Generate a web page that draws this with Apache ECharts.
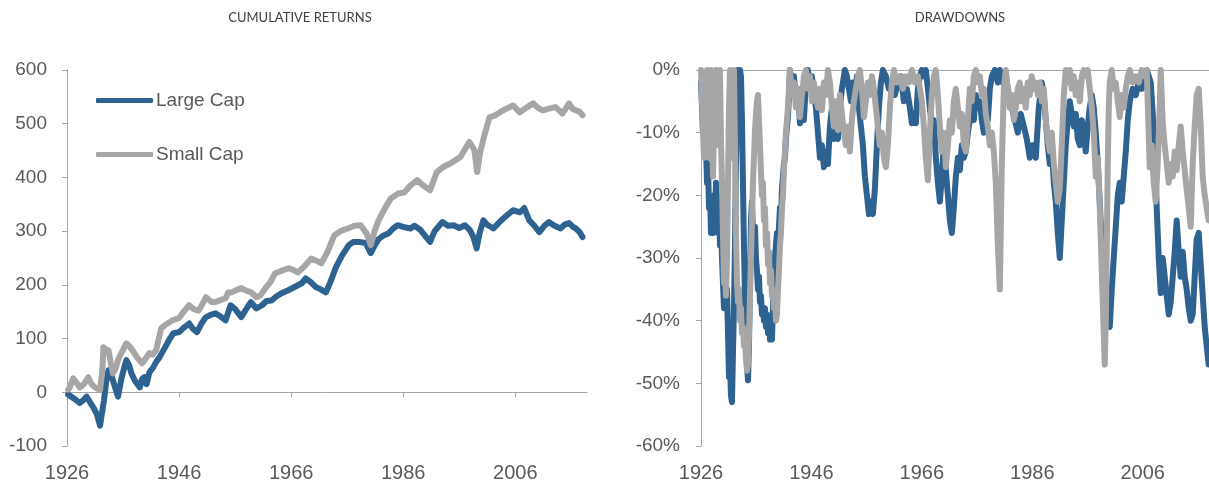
<!DOCTYPE html>
<html><head><meta charset="utf-8">
<script src="https://cdn.jsdelivr.net/npm/echarts@6/dist/echarts.min.js"></script>
<style>html,body{margin:0;padding:0;background:#fff}#c{width:1209px;height:484px}</style>
</head><body><div id="c"></div>
<script>
const startYear = 1926;
const xTickYears = [1926, 1946, 1966, 1986, 2006];
const panelTitles = ['CUMULATIVE RETURNS', 'DRAWDOWNS'];
const seriesNames = ['Large Cap', 'Small Cap'];

// Cumulative returns: [year, value]
const largeCapCumulative = [
[1926.2,-4],[1926.5,-6],[1927.3,-12],[1928.3,-20],[1929.0,-14],[1929.5,-8],[1930.2,-20],[1930.7,-28],[1931.3,-40],[1931.9,-62],
[1932.3,-35],[1932.6,-15],[1933.0,20],[1933.4,41],[1933.8,35],[1934.2,22],[1934.7,5],[1935.1,-8],[1935.7,25],[1936.2,45],
[1936.6,60],[1937.1,50],[1937.5,35],[1938.2,20],[1939.0,9],[1939.4,25],[1939.8,28],[1940.2,15],[1940.7,37],[1941.3,45],
[1942.0,58],[1942.5,65],[1943.2,78],[1944.2,97],[1945.0,110],[1946.0,112],[1946.8,120],[1947.8,128],[1948.5,118],[1949.2,112],
[1950.0,128],[1950.8,140],[1951.6,144],[1952.5,147],[1953.3,142],[1954.3,134],[1955.2,162],[1956.0,155],[1957.1,140],[1958.0,155],
[1958.8,168],[1959.8,156],[1960.8,162],[1961.6,170],[1962.5,171],[1963.3,178],[1964.2,184],[1965.5,190],[1966.6,196],[1967.9,203],
[1968.6,212],[1969.5,205],[1970.4,196],[1971.2,192],[1972.2,186],[1973.0,205],[1974.0,233],[1975.1,255],[1976.3,274],[1977.1,280],
[1978.1,280],[1979.3,278],[1980.2,259],[1981.0,275],[1981.6,285],[1982.5,292],[1983.4,296],[1984.2,305],[1985.0,311],[1986.0,308],
[1987.3,305],[1988.0,310],[1989.1,302],[1990.0,290],[1990.8,280],[1991.6,300],[1993.0,317],[1994.0,310],[1995.0,311],[1996.0,306],
[1997.0,311],[1997.9,302],[1998.5,290],[1999.1,268],[1999.6,295],[2000.3,320],[2001.0,312],[2002.1,305],[2003.0,315],[2003.9,324],
[2004.8,332],[2005.6,339],[2006.8,335],[2007.6,343],[2008.1,330],[2008.5,320],[2009.4,310],[2010.3,298],[2011.2,310],[2012.0,317],
[2013.0,310],[2014.1,305],[2014.8,312],[2015.6,315],[2016.3,308],[2016.8,305],[2017.5,298],[2018.0,289]
];
const smallCapCumulative = [
[1926.2,5],[1926.5,9],[1927.1,26],[1927.7,18],[1928.3,9],[1929.0,15],[1929.8,28],[1930.4,15],[1931.0,9],[1931.9,4],
[1932.3,40],[1932.5,84],[1932.9,80],[1933.4,78],[1933.8,55],[1934.2,35],[1934.7,45],[1935.1,60],[1935.8,75],[1936.6,91],
[1937.2,85],[1937.7,78],[1938.5,65],[1939.4,54],[1940.0,62],[1940.7,73],[1941.3,70],[1941.9,78],[1942.8,119],[1943.5,125],
[1944.2,130],[1945.0,135],[1946.0,138],[1946.8,150],[1947.8,162],[1948.6,155],[1949.5,152],[1950.2,165],[1950.8,177],[1951.8,168],
[1952.5,168],[1953.5,172],[1954.3,175],[1954.8,186],[1955.4,186],[1956.2,190],[1957.1,194],[1957.8,190],[1958.9,186],[1959.8,177],
[1960.5,180],[1961.5,195],[1962.3,205],[1963.1,221],[1964.2,226],[1965.5,231],[1966.4,228],[1967.2,223],[1968.4,235],[1969.6,249],
[1970.5,245],[1971.4,240],[1972.5,262],[1973.7,292],[1974.8,300],[1976.1,305],[1977.3,310],[1978.4,311],[1979.5,295],[1980.2,274],
[1980.9,300],[1981.6,320],[1982.6,340],[1983.8,361],[1985.1,370],[1986.2,372],[1987.3,385],[1988.5,395],[1989.6,385],[1990.8,376],
[1992.0,410],[1993.2,420],[1994.4,426],[1995.3,432],[1996.2,438],[1997.0,452],[1997.8,466],[1998.3,458],[1998.7,451],[1999.2,410],
[1999.7,445],[2000.4,475],[2001.4,512],[2002.3,515],[2003.2,521],[2004.4,528],[2005.6,534],[2006.8,521],[2008.0,530],[2009.2,538],
[2010.0,530],[2010.9,525],[2012.0,528],[2013.2,531],[2014.4,519],[2015.0,528],[2015.6,538],[2016.2,528],[2016.8,525],[2017.5,522],
[2018.0,516]
];

// Drawdowns (%): [year, value]
const largeCapDrawdown = [
[1926.00,-2],[1926.18,-6],[1926.36,-10],[1926.54,-8],[1926.72,-14],[1926.90,-12],[1927.09,-18],[1927.27,-15],[1927.45,-22],[1927.63,-20],
[1927.81,-26],[1927.99,-22],[1928.17,-26],[1928.35,-20],[1928.53,-25],[1928.71,-18],[1928.90,-22],[1929.08,-26],[1929.26,-20],[1929.44,-28],
[1929.62,-24],[1929.80,-30],[1929.98,-34],[1930.16,-38],[1930.34,-36],[1930.52,-38],[1930.71,-35],[1930.89,-42],[1931.07,-49],[1931.25,-46],
[1931.43,-52],[1931.61,-53],[1931.79,-45],[1931.97,-38],[1932.15,-28],[1932.33,-15],[1932.52,-5],[1932.70,0],[1932.88,-2],[1933.06,0],
[1933.24,-1],[1933.42,-8],[1933.60,-18],[1933.78,-28],[1933.96,-36],[1934.14,-42],[1934.33,-47],[1934.51,-49.5],[1934.69,-44],[1934.87,-34],
[1935.05,-24],[1935.23,-21],[1935.41,-26],[1935.59,-28],[1935.77,-25],[1935.95,-30],[1936.14,-32],[1936.32,-35],[1936.50,-33],[1936.68,-37],
[1936.86,-36],[1937.04,-39],[1937.22,-38],[1937.40,-40],[1937.58,-38],[1937.76,-41],[1937.95,-39],[1938.13,-42],[1938.31,-40],[1938.49,-43],
[1938.67,-41],[1938.85,-43],[1939.03,-38],[1939.21,-33],[1939.39,-30],[1939.57,-28],[1939.76,-26],[1939.94,-30],[1940.12,-25],[1940.30,-22],
[1940.48,-24],[1940.66,-19],[1940.84,-17],[1941.02,-15],[1941.20,-14],[1941.38,-11],[1941.57,-9],[1941.75,-7.5],[1941.93,-4],[1942.11,0],
[1942.47,-3],[1942.83,-1],[1943.19,-5],[1943.56,-3],[1943.92,-8.5],[1944.28,-6],[1944.64,-8],[1945.00,-2],[1945.37,0],[1945.73,-3],
[1946.09,-1],[1946.45,-4],[1946.81,-6],[1947.18,-10],[1947.54,-14],[1947.90,-12],[1948.26,-15.5],[1948.62,-13],[1948.99,-15],[1949.35,-9],
[1949.71,-6],[1950.07,-11],[1950.43,-9],[1950.80,-11],[1951.16,-6],[1951.52,-3],[1952.06,0],[1952.42,-1],[1952.79,-3],[1953.15,-5],
[1953.51,-2],[1953.87,-4],[1954.24,-1],[1954.60,-6],[1954.96,-9],[1955.32,-12],[1955.68,-17],[1956.05,-20],[1956.41,-23],[1956.77,-21],
[1957.13,-23],[1957.49,-19],[1957.86,-12],[1958.22,-6],[1958.58,-2],[1958.94,0],[1959.48,-1],[1960.03,-3],[1960.57,-2],[1961.11,-4],
[1961.65,-2],[1962.20,-1],[1962.74,-5],[1963.28,-3],[1963.83,-6],[1964.19,-8.5],[1964.55,-7],[1964.91,-8.5],[1965.28,-3],[1965.64,-1],
[1966.00,0],[1966.36,-1],[1966.72,0],[1967.09,-3],[1967.45,-6],[1967.81,-9],[1968.17,-8],[1968.53,-14],[1968.90,-18],[1969.26,-21],
[1969.62,-17],[1969.98,-12],[1970.34,-16],[1970.71,-20],[1971.07,-24],[1971.43,-26],[1971.79,-22],[1972.15,-17],[1972.52,-14],[1972.88,-16],
[1973.24,-12],[1973.60,-14],[1973.96,-13],[1974.33,-10],[1974.69,-8],[1975.05,-5],[1975.41,-8],[1975.77,-4],[1976.14,-6],[1976.50,-5],
[1976.86,-8],[1977.22,-10],[1977.58,-6],[1977.95,-8],[1978.31,-3],[1978.67,-1],[1979.21,0],[1979.76,-2],[1980.12,0],[1980.66,-2],
[1981.20,-1],[1981.74,-4],[1982.29,-6],[1982.83,-8],[1983.37,-10],[1983.91,-7],[1984.46,-9],[1985.00,-11],[1985.55,-14],[1986.09,-12],
[1986.63,-14],[1987.17,-6],[1987.72,-2],[1988.08,-4],[1988.44,-8],[1988.80,-12],[1989.17,-15],[1989.53,-12],[1989.89,-18],[1990.25,-21],
[1990.61,-26],[1990.98,-30],[1991.34,-24],[1991.70,-18],[1992.06,-12],[1992.42,-8],[1992.79,-5],[1993.15,-7],[1993.51,-9],[1993.87,-7],
[1994.24,-11],[1994.60,-12],[1994.96,-8],[1995.32,-10],[1995.68,-13],[1996.05,-9],[1996.41,-6],[1996.77,-4],[1997.13,-6],[1997.49,-10],
[1997.86,-15],[1998.22,-21],[1998.58,-28],[1998.94,-35],[1999.31,-40],[1999.67,-38],[2000.03,-41],[2000.39,-35],[2000.75,-30],[2001.12,-25],
[2001.48,-20],[2001.84,-18],[2002.20,-21],[2002.56,-17],[2002.93,-13],[2003.29,-8],[2003.65,-5],[2004.19,-3],[2004.74,-4],[2005.28,-2],
[2005.82,-3],[2006.36,-1],[2006.72,0],[2007.09,-1],[2007.45,-2],[2007.81,-2],[2008.17,-12],[2008.53,-22],[2008.90,-30],[2009.26,-35.6],
[2009.62,-30],[2009.98,-33],[2010.34,-36],[2010.71,-39],[2011.07,-37],[2011.43,-33],[2011.79,-29],[2012.15,-24],[2012.52,-29],[2012.88,-33],
[2013.24,-29],[2013.60,-33],[2013.96,-35],[2014.33,-38],[2014.69,-40],[2015.05,-39],[2015.41,-33],[2015.77,-27],[2016.14,-26],[2016.50,-31],
[2016.86,-36],[2017.22,-41],[2017.58,-44],[2017.94,-47]
];
const smallCapDrawdown = [
[1926.00,0],[1926.18,-5],[1926.36,-10],[1926.54,-14],[1926.72,-8],[1926.90,-2],[1927.09,0],[1927.27,-8],[1927.45,-14],[1927.63,-4],
[1927.81,0],[1927.99,-8],[1928.17,-17],[1928.35,-10],[1928.53,-3],[1928.71,0],[1928.90,-6],[1929.08,-12],[1929.26,-4],[1929.44,0],
[1929.62,-11],[1929.80,-18],[1929.98,-26],[1930.16,-34],[1930.34,-30],[1930.52,-36],[1930.71,-30],[1930.89,-18],[1931.07,-6],[1931.25,0],
[1931.43,-4],[1931.61,-14],[1931.79,-6],[1931.97,0],[1932.15,-12],[1932.33,-26],[1932.52,-34],[1932.70,-37],[1932.88,-35],[1933.06,-40],
[1933.24,-38],[1933.42,-42],[1933.60,-41],[1933.78,-44],[1933.96,-43],[1934.14,-46],[1934.33,-48],[1934.51,-47],[1934.69,-42],[1934.87,-36],
[1935.05,-30],[1935.23,-24],[1935.41,-18],[1935.59,-14],[1935.77,-10],[1935.95,-7],[1936.14,-5],[1936.32,-4],[1936.50,-8],[1936.68,-12],
[1936.86,-16],[1937.04,-20],[1937.22,-18],[1937.40,-24],[1937.58,-22],[1937.76,-28],[1937.95,-26],[1938.13,-31],[1938.31,-29],[1938.49,-34],
[1938.67,-32],[1938.85,-36],[1939.03,-35],[1939.21,-38],[1939.39,-36],[1939.57,-40],[1939.76,-39],[1939.94,-35],[1940.12,-32],[1940.30,-28],
[1940.48,-26],[1940.66,-22],[1940.84,-20],[1941.02,-16],[1941.20,-13],[1941.38,-10],[1941.57,-8],[1941.75,-6],[1941.93,-3],[1942.11,0],
[1942.47,-4],[1942.83,-2],[1943.19,-6],[1943.56,-3],[1943.92,-7.5],[1944.28,-4],[1944.64,-1],[1945.00,0],[1945.37,-3],[1945.73,-1],
[1946.09,-5],[1946.45,-2],[1946.81,-4],[1947.18,-6],[1947.54,-3],[1947.90,-6.4],[1948.26,-2],[1948.62,-4],[1948.99,0],[1949.35,-2],
[1949.71,-6],[1950.07,-9],[1950.43,-5],[1950.80,-9.6],[1951.16,-4],[1951.52,-7],[1951.88,-10],[1952.24,-12],[1952.61,-9],[1952.97,-13],
[1953.33,-8],[1953.69,-5],[1954.05,-3],[1954.42,-1],[1954.78,0],[1955.14,-3],[1955.50,-7.5],[1955.86,-5],[1956.23,-2],[1956.59,-4],
[1956.95,-1],[1957.31,-3],[1957.67,-6],[1958.04,-9],[1958.40,-12],[1958.76,-10],[1959.12,-14],[1959.48,-15.5],[1959.85,-12],[1960.21,-6],
[1960.57,-2],[1960.93,0],[1961.47,-2],[1962.02,-1],[1962.56,-3],[1963.10,-1],[1963.65,-2],[1964.19,0],[1964.73,-2],[1965.28,-1],
[1965.64,-3],[1966.00,-5],[1966.36,-9],[1966.72,-14],[1967.09,-17.6],[1967.45,-10],[1967.81,-4],[1968.17,-1],[1968.53,0],[1968.90,-4],
[1969.26,-9],[1969.62,-13],[1969.98,-10],[1970.34,-15.5],[1970.71,-12],[1971.07,-8],[1971.43,-10],[1971.79,-5],[1972.15,-3],[1972.52,-6],
[1972.88,-9],[1973.24,-7],[1973.60,-12],[1973.96,-13],[1974.33,-8],[1974.69,-3],[1975.05,-5],[1975.41,-1],[1975.77,0],[1976.14,-2],
[1976.50,-1],[1976.86,-4],[1977.22,-3],[1977.58,-7],[1977.95,-9],[1978.31,-12],[1978.67,-10],[1979.03,-13],[1979.39,-18],[1979.76,-28],
[1980.12,-35],[1980.48,-15],[1980.84,-3],[1981.20,0],[1981.56,-3],[1981.92,-6],[1982.29,-4],[1982.65,-8],[1983.01,-6],[1983.37,-3],
[1983.73,-2],[1984.10,-5],[1984.46,-3],[1984.82,-6],[1985.18,-2],[1985.55,-4],[1985.91,-1],[1986.27,-3],[1986.63,-2],[1987.00,-4],
[1987.36,-2],[1987.72,-5],[1988.08,-3],[1988.44,-8],[1988.80,-11],[1989.17,-13],[1989.53,-10],[1989.89,-15],[1990.25,-18],[1990.61,-21],
[1990.98,-19],[1991.34,-12],[1991.70,-4],[1992.06,0],[1992.42,-2],[1992.79,0],[1993.15,-3],[1993.51,-1],[1993.87,-4],[1994.24,-2],
[1994.60,-5],[1994.96,-1],[1995.32,0],[1995.68,-1],[1996.05,0],[1996.41,-3],[1996.77,-6],[1997.13,-10],[1997.49,-17],[1997.86,-14],
[1998.22,-22],[1998.58,-32],[1998.94,-42],[1999.12,-47],[1999.31,-40],[1999.49,-28],[1999.67,-15],[1999.85,-6],[2000.03,-2],[2000.39,0],
[2000.75,-3],[2001.12,-2],[2001.48,-5],[2001.84,-7.5],[2002.20,-4],[2002.56,-6],[2002.93,-3],[2003.29,-1],[2003.65,0],[2004.19,-2],
[2004.74,-1],[2005.28,-2],[2005.82,0],[2006.36,-1],[2006.72,0],[2006.90,-5],[2007.26,-15.5],[2007.62,-12],[2007.99,-18],[2008.35,-21],
[2008.71,-15],[2009.07,-6],[2009.26,0],[2009.62,-8.5],[2009.98,-12],[2010.34,-15],[2010.71,-18],[2011.07,-15],[2011.43,-17],[2011.79,-13],
[2012.15,-16],[2012.52,-12],[2012.88,-9],[2013.24,-13],[2013.60,-16],[2013.96,-19],[2014.33,-22],[2014.69,-25],[2015.05,-15],[2015.41,-9],
[2015.77,-4],[2016.14,-3],[2016.50,-9],[2016.86,-17],[2017.22,-20],[2017.58,-22],[2017.94,-24]
];

const BLUE = '#2e6290';
const GRAY = '#a6a6a6';
const AXIS = '#a6a6a6';
const LABEL = '#595959';
const FONT = '"Liberation Sans", Arial, sans-serif';

const toOffset = arr => arr.map(p => [p[0] - startYear, p[1]]);
const tickOffsets = xTickYears.map(y => y - startYear);
const yearFmt = v => String(Math.round(v + startYear));

function lineAxisX(gridIndex, max, showTicks) {
  return {
    type: 'value', gridIndex, min: 0, max, interval: 20,
    axisLine: { show: true, onZero: true, lineStyle: { color: AXIS, width: 1 } },
    axisTick: { show: showTicks, length: 5, lineStyle: { color: AXIS }, customValues: tickOffsets },
    axisLabel: { show: false, customValues: tickOffsets },
    splitLine: { show: false }
  };
}
function labelAxisX(gridIndex, max) {
  return {
    type: 'value', gridIndex, min: 0, max, interval: 20, position: 'bottom',
    axisLine: { show: false, onZero: false },
    axisTick: { show: false, customValues: tickOffsets },
    axisLabel: { show: true, customValues: tickOffsets, formatter: yearFmt, color: LABEL, fontSize: 20, fontFamily: FONT, margin: 17 },
    splitLine: { show: false }
  };
}
const lineStyleFor = c => ({ color: c, width: 6, cap: 'round', join: 'round' });

const option = {
  animation: false,
  backgroundColor: '#fff',
  graphic: [
    { type: 'text', x: 300, y: 18, style: { text: panelTitles[0], textAlign: 'center', textVerticalAlign: 'middle', fill: '#404040', font: '13px Lato, "Open Sans", sans-serif' } },
    { type: 'text', x: 960, y: 18, style: { text: panelTitles[1], textAlign: 'center', textVerticalAlign: 'middle', fill: '#404040', font: '13px Lato, "Open Sans", sans-serif' } }
  ],
  legend: {
    data: seriesNames, orient: 'vertical', left: 96, top: 91, padding: 0,
    itemWidth: 57, itemHeight: 5, itemGap: 35, icon: 'roundRect',
    textStyle: { color: LABEL, fontSize: 19, fontFamily: FONT, padding: [0, 0, 0, -2] }
  },
  grid: [
    { left: 67, top: 70, width: 520, height: 376, containLabel: false, outerBoundsMode: 'none' },
    { left: 701, top: 70, width: 508, height: 376, containLabel: false, outerBoundsMode: 'none' }
  ],
  xAxis: [
    lineAxisX(0, 92.8, true),
    labelAxisX(0, 92.8),
    lineAxisX(1, 92, false),
    labelAxisX(1, 92)
  ],
  yAxis: [
    { type: 'value', gridIndex: 0, min: -100, max: 600, interval: 100,
      axisLine: { show: true, lineStyle: { color: AXIS } },
      axisTick: { show: true, length: 5, lineStyle: { color: AXIS } },
      axisLabel: { color: LABEL, fontSize: 19, fontFamily: FONT, margin: 20 },
      splitLine: { show: false } },
    { type: 'value', gridIndex: 1, min: -60, max: 0, interval: 10,
      axisLine: { show: true, onZero: false, lineStyle: { color: AXIS } },
      axisTick: { show: true, length: 5, lineStyle: { color: AXIS } },
      axisLabel: { color: LABEL, fontSize: 19, fontFamily: FONT, margin: 21, formatter: v => v + '%' },
      splitLine: { show: false } }
  ],
  series: [
    { name: seriesNames[0], type: 'line', xAxisIndex: 0, yAxisIndex: 0, data: toOffset(largeCapCumulative), showSymbol: false, symbol: 'none', lineStyle: lineStyleFor(BLUE), itemStyle: { color: BLUE } },
    { name: seriesNames[1], type: 'line', xAxisIndex: 0, yAxisIndex: 0, data: toOffset(smallCapCumulative), showSymbol: false, symbol: 'none', lineStyle: lineStyleFor(GRAY), itemStyle: { color: GRAY } },
    { name: seriesNames[0], type: 'line', xAxisIndex: 2, yAxisIndex: 1, data: toOffset(largeCapDrawdown), showSymbol: false, symbol: 'none', lineStyle: lineStyleFor(BLUE), itemStyle: { color: BLUE } },
    { name: seriesNames[1], type: 'line', xAxisIndex: 2, yAxisIndex: 1, data: toOffset(smallCapDrawdown), showSymbol: false, symbol: 'none', lineStyle: lineStyleFor(GRAY), itemStyle: { color: GRAY } }
  ]
};
const chart = echarts.init(document.getElementById('c'), null, { renderer: 'canvas' });
chart.setOption(option);
</script>
</body></html>
